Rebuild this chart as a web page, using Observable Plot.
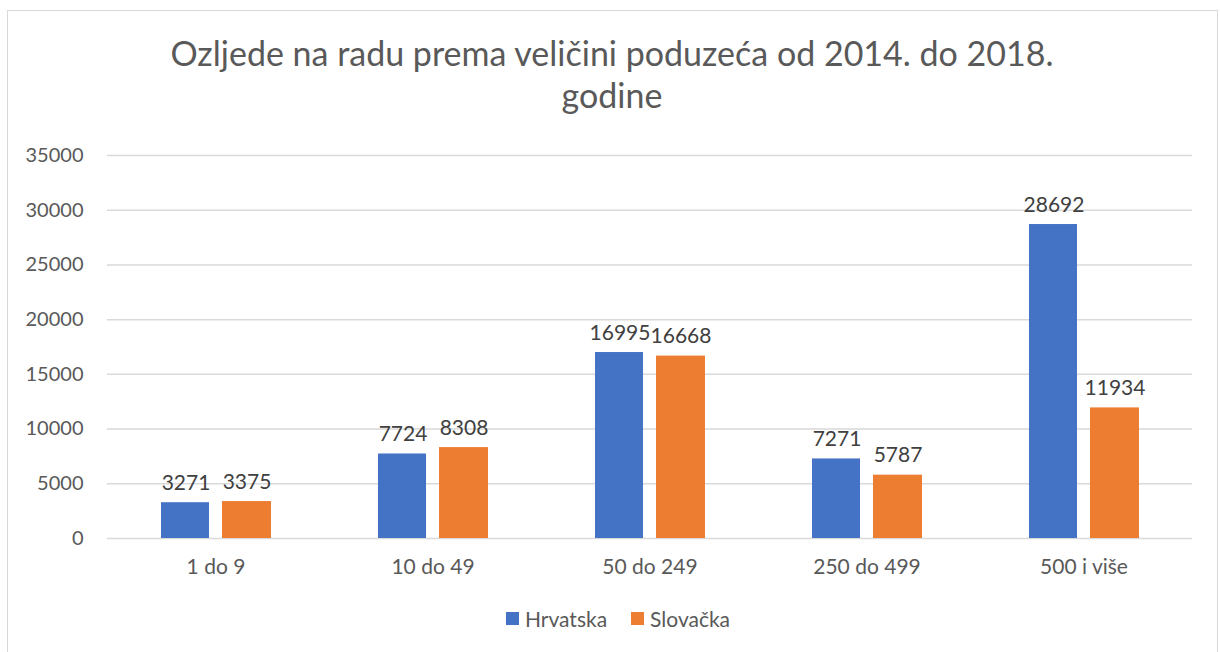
<!DOCTYPE html>
<html>
<head>
<meta charset="utf-8">
<script src="https://cdn.jsdelivr.net/npm/d3@7"></script>
<script src="https://cdn.jsdelivr.net/npm/@observablehq/plot@0.6"></script>
<style>
  html, body { margin: 0; padding: 0; background: #fff; width: 1220px; height: 652px; overflow: hidden; }
  body { font-family: Lato, "Open Sans", sans-serif; position: relative; }
  #frame { position: absolute; left: 7px; top: 10px; width: 1211px; height: 660px; border: 1px solid #d9d9d9; box-sizing: border-box; }
  #title { position: absolute; left: 0; width: 1224px; top: 32px; text-align: center; font-size: 34px; line-height: 42px; color: #595959; }
  #chart { position: absolute; left: 0; top: 130px; }
  #legend { position: absolute; top: 606px; left: 0; width: 1236px; display: flex; justify-content: center; gap: 24px; font-size: 21px; color: #595959; }
  #legend span.item { display: flex; align-items: center; }
  #legend i { display: inline-block; width: 13px; height: 13px; margin-right: 6px; }
</style>
</head>
<body>
<div id="frame"></div>
<div id="title">Ozljede na radu prema veličini poduzeća od 2014. do 2018.<br>godine</div>
<div id="chart"></div>
<div id="legend"></div>
<script>
const categories = ["1 do 9", "10 do 49", "50 do 249", "250 do 499", "500 i više"];
const hrvatska = [3271, 7724, 16995, 7271, 28692];
const slovacka = [3375, 8308, 16668, 5787, 11934];
const seriesNames = ["Hrvatska", "Slovačka"];
const seriesColors = ["#4472C4", "#ED7D31"];
const yTicks = [0, 5000, 10000, 15000, 20000, 25000, 30000, 35000];

const dataH = categories.map((c, i) => ({category: c, value: hrvatska[i]}));
const dataS = categories.map((c, i) => ({category: c, value: slovacka[i]}));

const chart = Plot.plot({
  width: 1220,
  height: 460,
  marginTop: 25,
  marginBottom: 52,
  marginLeft: 107,
  marginRight: 28,
  style: {fontFamily: "Lato, 'Open Sans', sans-serif", color: "#595959", background: "transparent"},
  x: {domain: categories, padding: 0},
  y: {domain: [0, 35000]},
  marks: [
    Plot.ruleY(yTicks, {stroke: "#d9d9d9", strokeWidth: 1.5}),
    Plot.axisY({ticks: yTicks, label: null, tickSize: 0, tickPadding: 24, tickFormat: d => String(d), fontSize: 20, fill: "#595959"}),
    Plot.axisX({label: null, tickSize: 0, tickPadding: 21, fontSize: 21, fill: "#595959"}),
    Plot.barY(dataH, {x: "category", y: "value", fill: seriesColors[0], insetLeft: 54, insetRight: 115}),
    Plot.barY(dataS, {x: "category", y: "value", fill: seriesColors[1], insetLeft: 115, insetRight: 53}),
    Plot.text(dataH, {x: "category", y: "value", text: d => String(d.value), dx: -30, dy: -13, lineAnchor: "bottom", fontSize: 21, fill: "#404040"}),
    Plot.text(dataS, {x: "category", y: "value", text: d => String(d.value), dx: 31, dy: -13, lineAnchor: "bottom", fontSize: 21, fill: "#404040"})
  ]
});
document.getElementById("chart").appendChild(chart);

const legend = document.getElementById("legend");
seriesNames.forEach((n, i) => {
  const s = document.createElement("span");
  s.className = "item";
  s.innerHTML = `<i style="background:${seriesColors[i]}"></i>${n}`;
  legend.appendChild(s);
});
</script>
</body>
</html>
